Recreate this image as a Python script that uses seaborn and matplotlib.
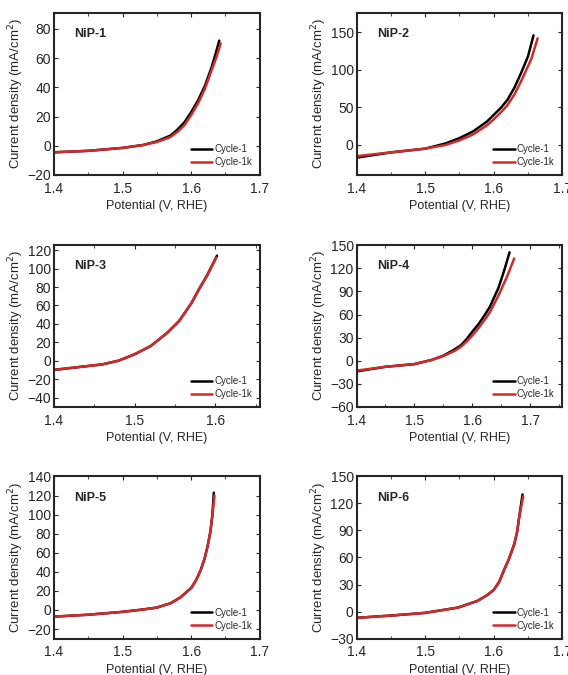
import matplotlib
matplotlib.use("Agg")
import matplotlib.pyplot as plt
from matplotlib.ticker import MultipleLocator
import seaborn as sns
import pandas as pd

# === DATA ===
nip1_v1 = [1.40, 1.45, 1.50, 1.53, 1.55, 1.57, 1.58, 1.59, 1.60, 1.61, 1.62, 1.63, 1.635, 1.641]
nip1_j1 = [-4.5, -3.5, -1.5, 0.5, 3, 7, 11, 16, 23, 31, 41, 54, 62, 72]
nip1_v1k = [1.40, 1.45, 1.50, 1.53, 1.55, 1.57, 1.58, 1.59, 1.60, 1.61, 1.62, 1.63, 1.637, 1.643]
nip1_j1k = [-4.5, -3.5, -1.5, 0.5, 2.5, 6, 9.5, 14, 21, 29, 39, 52, 61, 70]

nip2_v1 = [1.40, 1.45, 1.50, 1.53, 1.55, 1.57, 1.59, 1.60, 1.61, 1.62, 1.63, 1.64, 1.65, 1.658]
nip2_j1 = [-17, -10, -5, 2, 9, 18, 31, 40, 49, 60, 76, 96, 118, 146]
nip2_v1k = [1.40, 1.45, 1.50, 1.53, 1.55, 1.57, 1.59, 1.60, 1.61, 1.62, 1.63, 1.64, 1.655, 1.664]
nip2_j1k = [-15, -10, -5, 0, 6, 14, 26, 34, 43, 53, 67, 85, 115, 142]

nip3_v1 = [1.40, 1.43, 1.46, 1.48, 1.50, 1.52, 1.54, 1.555, 1.57, 1.58, 1.59, 1.602]
nip3_j1 = [-10, -7, -4, 0, 7, 16, 30, 43, 62, 78, 93, 114]
nip3_v1k = [1.40, 1.43, 1.46, 1.48, 1.50, 1.52, 1.54, 1.555, 1.57, 1.58, 1.59, 1.601]
nip3_j1k = [-10, -7, -4, 0, 7, 16, 30, 43, 62, 78, 93, 112]

nip4_v1 = [1.40, 1.45, 1.50, 1.53, 1.55, 1.57, 1.58, 1.59, 1.60, 1.61, 1.62, 1.63, 1.645, 1.655, 1.664]
nip4_j1 = [-14, -8, -4.5, 1, 6.5, 15, 20, 28, 38, 47, 58, 70, 95, 118, 141]
nip4_v1k = [1.40, 1.45, 1.50, 1.53, 1.55, 1.57, 1.58, 1.59, 1.60, 1.61, 1.62, 1.63, 1.645, 1.66, 1.672]
nip4_j1k = [-13, -8, -4.5, 1, 6, 13, 18, 25, 33, 42, 52, 63, 85, 110, 133]

nip5_v1 = [1.40, 1.45, 1.50, 1.53, 1.55, 1.57, 1.584, 1.60, 1.607, 1.614, 1.62, 1.624, 1.628, 1.631, 1.633]
nip5_j1 = [-7, -5, -2, 0.5, 2.5, 7, 13, 23, 31, 42, 55, 67, 82, 100, 123]
nip5_v1k = [1.40, 1.45, 1.50, 1.53, 1.55, 1.57, 1.584, 1.60, 1.607, 1.614, 1.62, 1.624, 1.628, 1.631, 1.634]
nip5_j1k = [-7, -5, -2, 0.5, 2.5, 7, 13, 23, 31, 42, 55, 67, 82, 100, 120]

nip6_v1 = [1.40, 1.45, 1.50, 1.548, 1.576, 1.59, 1.60, 1.608, 1.615, 1.622, 1.63, 1.634, 1.637, 1.642]
nip6_j1 = [-7, -4.5, -1.5, 4.4, 11.7, 18, 24, 33, 46, 58, 75, 88, 104, 130]
nip6_v1k = [1.40, 1.45, 1.50, 1.548, 1.576, 1.59, 1.60, 1.608, 1.615, 1.622, 1.63, 1.634, 1.637, 1.643]
nip6_j1k = [-7, -4.5, -1.5, 4.4, 11.7, 18, 24, 33, 46, 58, 75, 88, 104, 128]

names = ["NiP-1", "NiP-2", "NiP-3", "NiP-4", "NiP-5", "NiP-6"]
curves = [
    (nip1_v1, nip1_j1, nip1_v1k, nip1_j1k),
    (nip2_v1, nip2_j1, nip2_v1k, nip2_j1k),
    (nip3_v1, nip3_j1, nip3_v1k, nip3_j1k),
    (nip4_v1, nip4_j1, nip4_v1k, nip4_j1k),
    (nip5_v1, nip5_j1, nip5_v1k, nip5_j1k),
    (nip6_v1, nip6_j1, nip6_v1k, nip6_j1k),
]
xlims = [(1.4, 1.7), (1.4, 1.7), (1.4, 1.655), (1.4, 1.755), (1.4, 1.7), (1.4, 1.7)]
ylims = [(-20, 91), (-40, 176), (-50, 126), (-60, 151), (-30, 140), (-30, 150)]
yticks = [20, 50, 20, 30, 20, 30]

# === PLOTTING ===
sns.set_style("ticks")
plt.rcParams["font.family"] = ["Liberation Sans", "DejaVu Sans"]
palette = {"Cycle-1": "black", "Cycle-1k": "#d12a2a"}

fig, axes = plt.subplots(3, 2, figsize=(5.68, 6.75), dpi=100)
plt.subplots_adjust(left=0.095, right=0.99, top=0.981, bottom=0.054, wspace=0.47, hspace=0.43)

for ax, name, (v1, j1, v1k, j1k), xl, yl, ys in zip(axes.flat, names, curves, xlims, ylims, yticks):
    df = pd.concat([
        pd.DataFrame({"V": v1, "j": j1, "cycle": "Cycle-1"}),
        pd.DataFrame({"V": v1k, "j": j1k, "cycle": "Cycle-1k"}),
    ])
    sns.lineplot(data=df, x="V", y="j", hue="cycle", palette=palette, estimator=None,
                 linewidth=1.8, ax=ax)
    ax.set_xlim(*xl)
    ax.set_ylim(*yl)
    ax.xaxis.set_major_locator(MultipleLocator(0.1))
    ax.xaxis.set_minor_locator(MultipleLocator(0.05))
    ax.yaxis.set_major_locator(MultipleLocator(ys))
    ax.tick_params(direction="in", which="both", top=True, right=True, labelsize=10)
    ax.tick_params(axis="x", pad=5)
    ax.tick_params(axis="y", pad=2)
    ax.tick_params(which="major", length=3)
    ax.tick_params(which="minor", length=2)
    for s in ax.spines.values():
        s.set_linewidth(1.5)
    ax.set_xlabel("Potential (V, RHE)", fontsize=9, labelpad=3)
    ax.set_ylabel("Current density (mA/cm$^2$)", fontsize=9.5, labelpad=1)
    ax.text(0.1, 0.85, name, transform=ax.transAxes, fontsize=9, fontweight="bold")
    ax.legend(loc="lower right", frameon=False, fontsize=7, handlelength=2.2,
              labelspacing=0.3, handletextpad=0.2, borderaxespad=0.4, title=None)

plt.savefig("out.png", dpi=100)
